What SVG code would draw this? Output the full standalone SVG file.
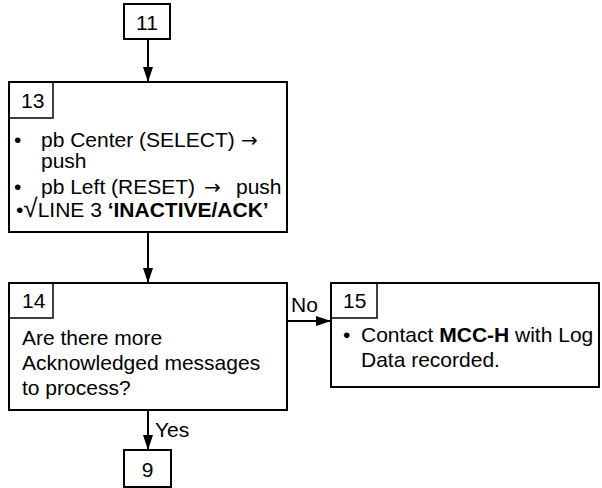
<svg xmlns="http://www.w3.org/2000/svg" width="602" height="488" viewBox="0 0 602 488">
<style>
  .box { fill: #ffffff; stroke: #000000; stroke-width: 2; }
  .lbl { fill: none; stroke: #000000; stroke-width: 1.5; }
  .t { font-family: "Liberation Sans", Arial, sans-serif; font-size: 21px; fill: #000000; }
  .b { font-weight: bold; }
  .ar { font-family: "DejaVu Sans", sans-serif; font-size: 20px; }
  .c { stroke: #000000; stroke-width: 2; fill: none; }
</style>
<defs>
  <marker id="ah" markerUnits="userSpaceOnUse" markerWidth="16" markerHeight="12" refX="15" refY="5" orient="auto">
    <path d="M0,0 L15,5 L0,10 Z" fill="#000000"/>
  </marker>
</defs>
<g id="connectors">
  <line class="c" x1="148" y1="39" x2="148" y2="82" marker-end="url(#ah)"/>
  <line class="c" x1="148" y1="232" x2="148" y2="283" marker-end="url(#ah)"/>
  <line class="c" x1="148" y1="410" x2="148" y2="450" marker-end="url(#ah)"/>
  <line class="c" x1="287" y1="321" x2="331" y2="321" marker-end="url(#ah)"/>
  <text class="t" x="155" y="437">Yes</text>
  <text class="t" x="291" y="312">No</text>
</g>
<g id="node11">
  <rect class="box" x="124" y="4" width="46" height="35"/>
  <text class="t" x="147" y="30" text-anchor="middle">11</text>
</g>
<g id="node13">
  <rect class="box" x="9" y="82" width="278" height="150"/>
  <rect class="lbl" x="9" y="82" width="44" height="36"/>
  <text class="t" x="21" y="108">13</text>
  <text class="t" x="14" y="147">•</text>
  <text class="t" x="41" y="147">pb Center (SELECT) <tspan class="ar" x="241">→</tspan></text>
  <text class="t" x="41" y="168">push</text>
  <text class="t" x="14" y="194">•</text>
  <text class="t" x="41" y="194">pb Left (RESET) <tspan class="ar" x="204">→</tspan><tspan x="236">push</tspan></text>
  <text class="t" x="16" y="217">•<tspan font-size="26">√</tspan>LINE 3 <tspan class="b">‘INACTIVE/ACK’</tspan></text>
</g>
<g id="node14">
  <rect class="box" x="9" y="283" width="278" height="127"/>
  <rect class="lbl" x="9" y="283" width="44" height="35"/>
  <text class="t" x="22" y="308">14</text>
  <text class="t" x="22" y="345">Are there more</text>
  <text class="t" x="22" y="370">Acknowledged messages</text>
  <text class="t" x="22" y="395">to process?</text>
</g>
<g id="node15">
  <rect class="box" x="331" y="283" width="268" height="104"/>
  <rect class="lbl" x="331" y="283" width="46" height="35"/>
  <text class="t" x="343" y="308">15</text>
  <text class="t" x="343" y="342">•</text>
  <text class="t" x="361" y="342">Contact <tspan class="b">MCC-H</tspan> with Log</text>
  <text class="t" x="361" y="367">Data recorded.</text>
</g>
<g id="node9">
  <rect class="box" x="124" y="450" width="47" height="37"/>
  <text class="t" x="147.5" y="477" text-anchor="middle">9</text>
</g>
</svg>
